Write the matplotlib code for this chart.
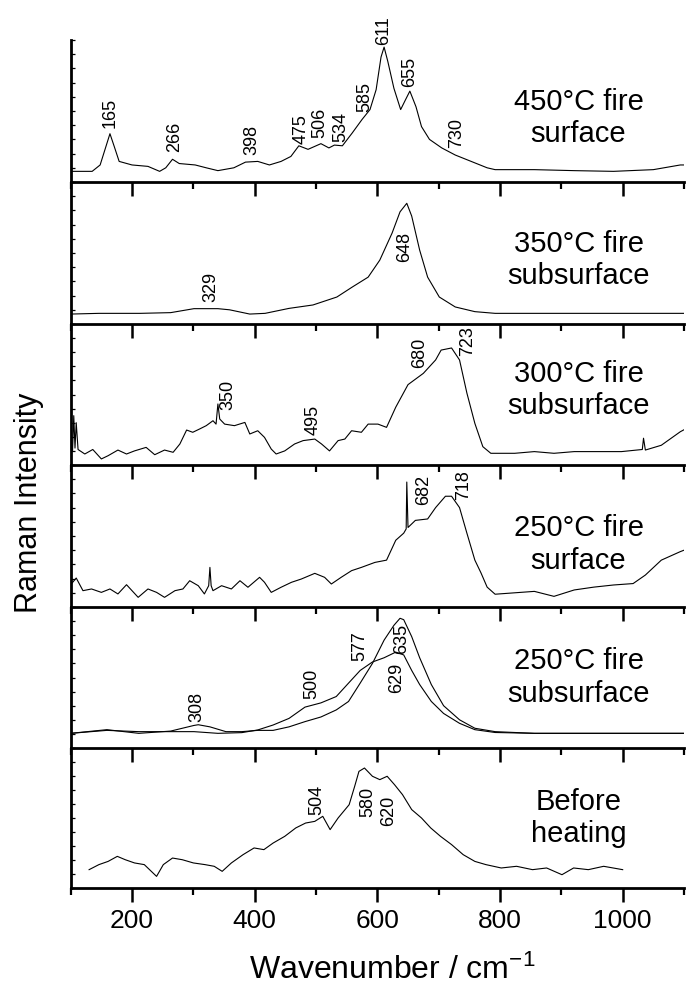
import matplotlib
matplotlib.use("Agg")
import matplotlib.pyplot as plt
from matplotlib.ticker import MultipleLocator

plt.rcParams['font.family'] = ['Liberation Sans', 'DejaVu Sans']
plt.rcParams['mathtext.fontset'] = 'custom'
plt.rcParams['mathtext.rm'] = 'Liberation Sans'
plt.rcParams['mathtext.default'] = 'regular'

# ---- spectra (wavenumber, relative intensity) ----
wn_450s = [100, 135, 148, 156, 164, 171, 179, 200, 226, 245, 255, 266, 277, 303, 321,
           340, 366, 385, 405, 424, 443, 459, 472, 487, 508, 521, 530, 543, 559, 575,
           588, 598, 606, 611, 617, 627, 638, 646, 653, 663, 672, 685, 705, 727, 753,
           779, 792, 856, 921, 985, 1050, 1094, 1100]
int_450s = [0.075, 0.075, 0.12, 0.23, 0.34, 0.25, 0.145, 0.12, 0.11, 0.075, 0.10, 0.16,
            0.13, 0.12, 0.10, 0.08, 0.10, 0.14, 0.145, 0.12, 0.145, 0.18, 0.255, 0.23,
            0.27, 0.24, 0.26, 0.255, 0.345, 0.44, 0.51, 0.65, 0.88, 0.95, 0.85, 0.66,
            0.51, 0.58, 0.64, 0.53, 0.39, 0.30, 0.24, 0.19, 0.145, 0.10, 0.087, 0.087,
            0.08, 0.075, 0.087, 0.12, 0.12]

wn_350 = [100, 146, 213, 263, 301, 340, 359, 392, 417, 456, 495, 534, 559, 585, 604,
          624, 637, 648, 656, 669, 682, 701, 727, 759, 792, 921, 1100]
int_350 = [0.07, 0.075, 0.075, 0.08, 0.108, 0.108, 0.10, 0.07, 0.075, 0.11, 0.134, 0.19,
           0.26, 0.33, 0.45, 0.64, 0.79, 0.85, 0.76, 0.52, 0.33, 0.19, 0.12, 0.087,
           0.075, 0.075, 0.075]

wn_300 = [100, 103, 105, 107, 109, 112, 123, 136, 150, 161, 177, 191, 204, 223, 237,
          253, 267, 278, 289, 299, 310, 321, 332, 337, 340, 343, 351, 367, 384, 392,
          405, 416, 427, 435, 449, 465, 479, 498, 509, 522, 536, 547, 558, 574, 585,
          601, 615, 630, 650, 675, 695, 704, 721, 734, 746, 759, 772, 785, 824, 856,
          888, 921, 953, 998, 1032, 1034, 1037, 1063, 1094, 1100]
int_300 = [0.10, 0.10, 0.35, 0.12, 0.30, 0.11, 0.078, 0.11, 0.043, 0.066, 0.106, 0.078,
           0.10, 0.125, 0.073, 0.106, 0.09, 0.149, 0.248, 0.232, 0.255, 0.279, 0.314,
           0.29, 0.433, 0.326, 0.29, 0.279, 0.302, 0.22, 0.243, 0.196, 0.113, 0.078,
           0.10, 0.149, 0.173, 0.184, 0.149, 0.10, 0.173, 0.184, 0.243, 0.232, 0.29,
           0.29, 0.267, 0.41, 0.57, 0.65, 0.745, 0.815, 0.83, 0.745, 0.51, 0.295, 0.13,
           0.083, 0.083, 0.095, 0.083, 0.095, 0.095, 0.095, 0.11, 0.19, 0.106, 0.14,
           0.236, 0.25]

wn_250s = [100, 101, 109, 120, 134, 150, 164, 177, 191, 210, 226, 240, 253, 270, 283,
           294, 308, 318, 325, 327, 329, 332, 346, 362, 376, 389, 408, 416, 427, 443,
           460, 476, 498, 514, 525, 541, 558, 574, 596, 615, 630, 643, 647, 648, 650,
           662, 682, 695, 711, 721, 734, 746, 759, 769, 779, 792, 824, 856, 888, 921,
           953, 985, 1017, 1037, 1063, 1094, 1100]
int_250s = [0.14, 0.162, 0.204, 0.115, 0.127, 0.103, 0.127, 0.092, 0.157, 0.068, 0.127,
            0.103, 0.068, 0.115, 0.127, 0.185, 0.15, 0.092, 0.15, 0.279, 0.15, 0.115,
            0.15, 0.127, 0.185, 0.139, 0.209, 0.174, 0.103, 0.139, 0.174, 0.197, 0.237,
            0.209, 0.162, 0.209, 0.256, 0.279, 0.314, 0.33, 0.47, 0.52, 0.55, 0.88,
            0.56, 0.61, 0.62, 0.70, 0.78, 0.78, 0.70, 0.52, 0.33, 0.24, 0.14, 0.09,
            0.10, 0.11, 0.075, 0.12, 0.14, 0.155, 0.165, 0.225, 0.33, 0.39, 0.40]

# 250C subsurface, two spots
wn_250a = [100, 159, 211, 263, 301, 308, 327, 353, 379, 405, 430, 456, 482, 508, 533,
           553, 572, 592, 611, 627, 637, 643, 656, 669, 688, 708, 734, 759, 792, 856, 1100]
int_250a = [0.104, 0.13, 0.104, 0.12, 0.16, 0.165, 0.15, 0.116, 0.116, 0.125, 0.125,
            0.15, 0.187, 0.22, 0.27, 0.33, 0.46, 0.60, 0.765, 0.87, 0.92, 0.91, 0.79,
            0.64, 0.45, 0.30, 0.20, 0.14, 0.116, 0.104, 0.104]
wn_250b = [100, 159, 211, 263, 301, 340, 379, 405, 430, 456, 482, 508, 533, 553, 572,
           592, 611, 630, 643, 656, 669, 688, 708, 734, 759, 792, 856, 1100]
int_250b = [0.104, 0.125, 0.116, 0.116, 0.116, 0.104, 0.109, 0.128, 0.163, 0.21, 0.29,
            0.32, 0.365, 0.46, 0.55, 0.61, 0.64, 0.68, 0.66, 0.55, 0.45, 0.33, 0.245,
            0.175, 0.13, 0.11, 0.104, 0.104]

wn_before = [130, 146, 161, 176, 189, 204, 220, 240, 251, 266, 282, 300, 319, 334, 347,
             362, 381, 399, 415, 430, 449, 467, 483, 498, 511, 523, 536, 554, 563, 570,
             579, 592, 604, 616, 628, 641, 656, 672, 687, 703, 721, 740, 759, 777, 802,
             827, 853, 876, 901, 920, 944, 969, 1000]
int_before = [0.131, 0.167, 0.19, 0.226, 0.202, 0.179, 0.167, 0.083, 0.167, 0.214,
              0.202, 0.179, 0.167, 0.155, 0.119, 0.179, 0.238, 0.286, 0.274, 0.321,
              0.369, 0.429, 0.464, 0.476, 0.512, 0.417, 0.50, 0.595, 0.726, 0.833,
              0.857, 0.798, 0.774, 0.798, 0.738, 0.667, 0.56, 0.50, 0.429, 0.369,
              0.31, 0.238, 0.19, 0.167, 0.143, 0.155, 0.131, 0.143, 0.095, 0.143,
              0.131, 0.155, 0.131]

# ---- peak assignments and panel names ----
peaks_450s = [165, 266, 398, 475, 506, 534, 585, 611, 655, 730]
peaks_350 = [329, 648]
peaks_300 = [350, 495, 680, 723]
peaks_250s = [682, 718]
peaks_250sub = [308, 500, 577, 635, 629]
peaks_before = [504, 580, 620]

names = ['450°C fire\nsurface', '350°C fire\nsubsurface', '300°C fire\nsubsurface',
         '250°C fire\nsurface', '250°C fire\nsubsurface', 'Before\nheating']

# ---- layout: where the peak numbers sit (wavenumber, height in panel) ----
lab_450s = [(164, 0.38), (269, 0.21), (395, 0.19), (475, 0.27), (506, 0.31),
            (540, 0.28), (579, 0.49), (611, 0.965), (653, 0.67), (730, 0.24)]
lab_350 = [(328, 0.157), (645, 0.44)]
lab_300 = [(356, 0.39), (495, 0.21), (669, 0.685), (748, 0.77)]
lab_250s = [(676, 0.72), (741, 0.75)]
lab_250sub = [(306, 0.187), (493, 0.35), (571, 0.62), (639, 0.67), (631, 0.39)]
lab_before = [(501, 0.52), (585, 0.51), (619, 0.44)]

name_y = [0.45, 0.45, 0.53, 0.44, 0.50, 0.50]

panels = [
    ([(wn_450s, int_450s)], peaks_450s, lab_450s),
    ([(wn_350, int_350)], peaks_350, lab_350),
    ([(wn_300, int_300)], peaks_300, lab_300),
    ([(wn_250s, int_250s)], peaks_250s, lab_250s),
    ([(wn_250a, int_250a), (wn_250b, int_250b)], peaks_250sub, lab_250sub),
    ([(wn_before, int_before)], peaks_before, lab_before),
]

W, H = 686, 989
fig = plt.figure(figsize=(W / 100, H / 100), dpi=100)
x0, x1 = 70.7, 684
edges = [40, 182, 324, 465, 607, 748, 888]

for i, (lines, peaks, labpos) in enumerate(panels):
    top, bot = edges[i], edges[i + 1]
    ax = fig.add_axes([x0 / W, 1 - bot / H, (x1 - x0) / W, (bot - top) / H])
    ax.patch.set_visible(False)
    for wn, inten in lines:
        ax.plot(wn, inten, color='black', lw=0.8)
    for p, (px, py) in zip(peaks, labpos):
        ax.text(px, py, str(p), rotation=90, ha='center', va='bottom', fontsize=13)
    ax.text(0.828, name_y[i], names[i], transform=ax.transAxes, ha='center',
            va='center', fontsize=21, multialignment='center')

    ax.set_xlim(100, 1100)
    ax.set_ylim(0, 1)
    ax.spines['top'].set_visible(False)
    ax.spines['right'].set_visible(False)
    ax.spines['left'].set_linewidth(2)
    ax.spines['bottom'].set_linewidth(2)
    ax.xaxis.set_major_locator(MultipleLocator(200))
    ax.xaxis.set_minor_locator(MultipleLocator(100))
    ax.tick_params(axis='x', which='major', direction='out', length=10, width=1.8,
                   labelsize=19, pad=5)
    ax.tick_params(axis='x', which='minor', direction='out', length=5, width=1.6)
    ax.yaxis.set_major_locator(MultipleLocator(0.1))
    ax.tick_params(axis='y', direction='in', length=3, width=0.9, labelleft=False)
    if i < len(panels) - 1:
        ax.tick_params(axis='x', labelbottom=False)

fig.text(392 / W, 1 - 979 / H, 'Wavenumber / cm$^{-1}$', ha='center', va='baseline',
         fontsize=23)
fig.text(29 / W, 1 - 503 / H, 'Raman Intensity', rotation=90, ha='center',
         va='center', fontsize=22)

fig.savefig('out.png', dpi=100)
